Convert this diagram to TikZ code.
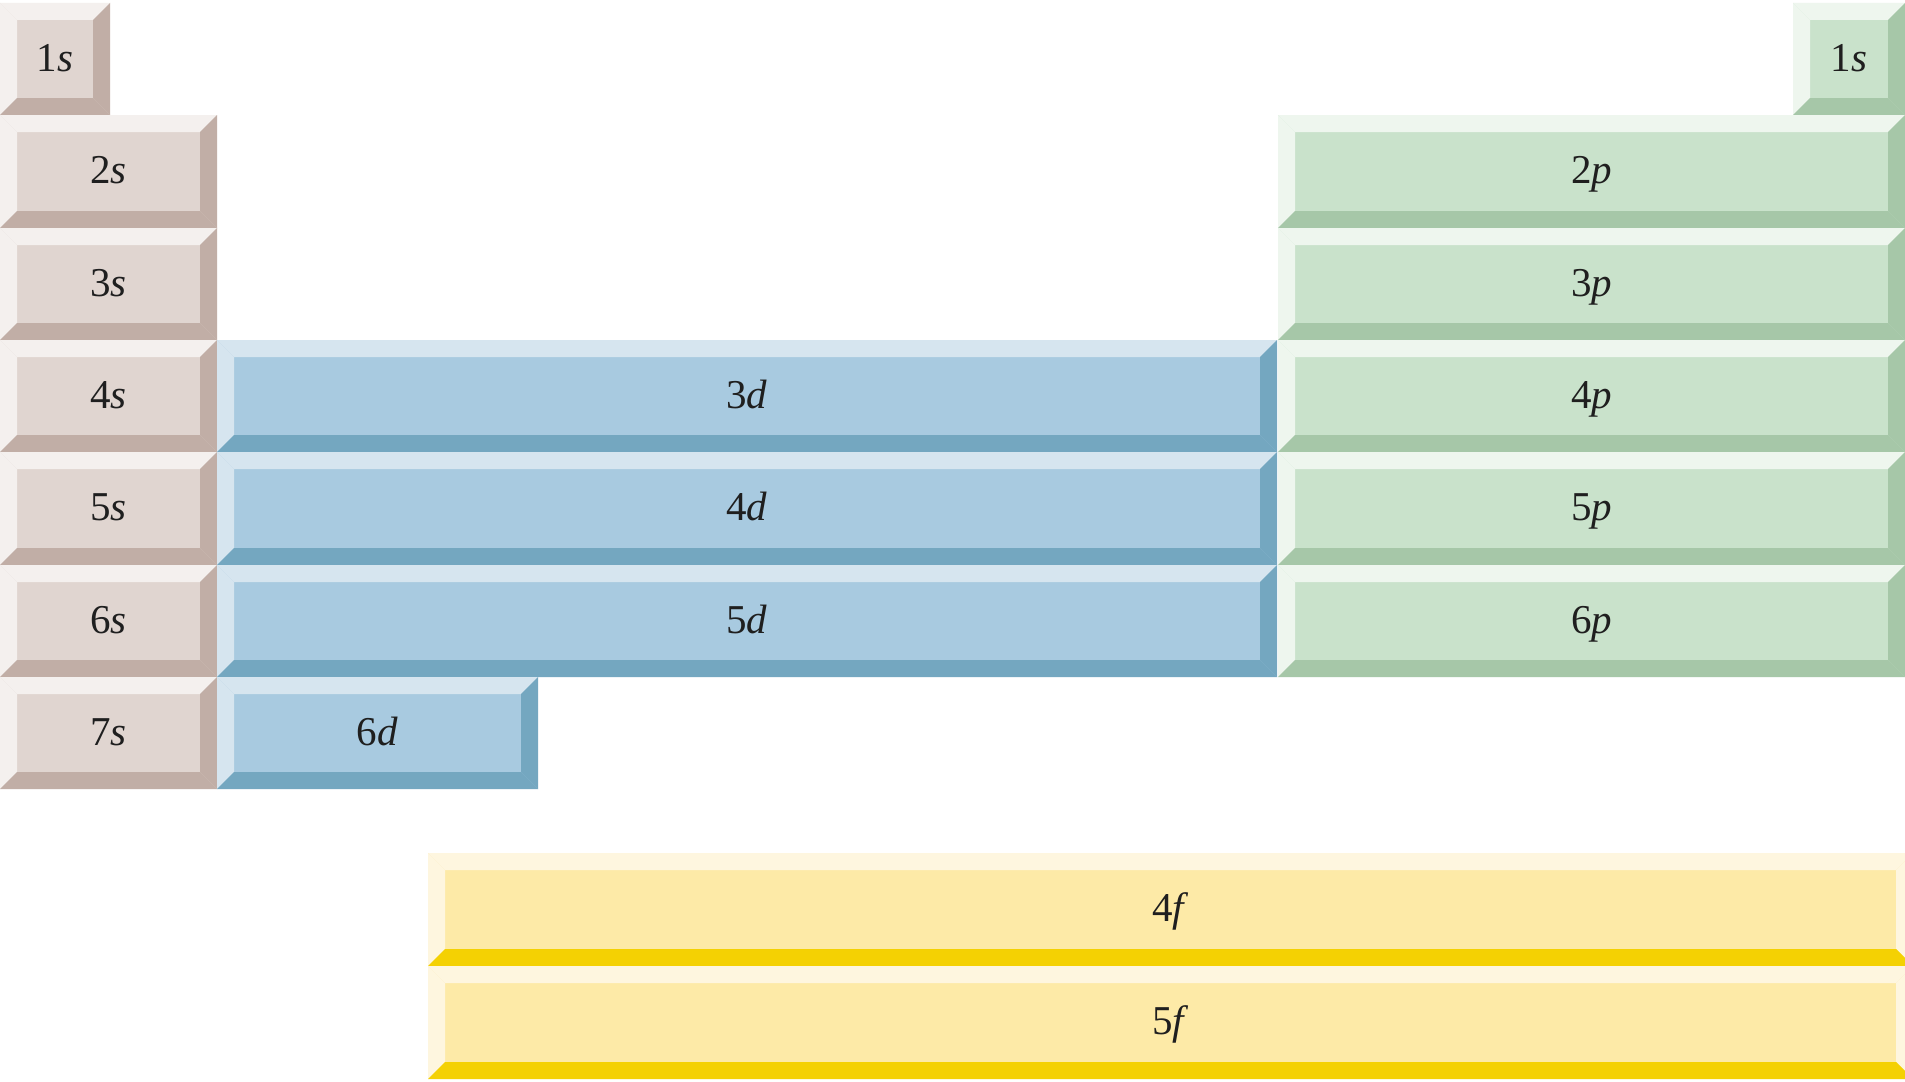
\documentclass[tikz,border=0pt]{standalone}
\usepackage{fontspec}
\setmainfont{Liberation Serif}
\definecolor{sface}{HTML}{E0D5D0}
\definecolor{slight}{HTML}{F4F0EE}
\definecolor{sright}{HTML}{C1AEA6}
\definecolor{sbottom}{HTML}{C1AEA6}
\definecolor{pface}{HTML}{C9E2CB}
\definecolor{plight}{HTML}{EEF6EE}
\definecolor{pright}{HTML}{A6C7A8}
\definecolor{pbottom}{HTML}{A6C7A8}
\definecolor{dface}{HTML}{A8CAE0}
\definecolor{dlight}{HTML}{D6E5EF}
\definecolor{dright}{HTML}{74A7C0}
\definecolor{dbottom}{HTML}{74A7C0}
\definecolor{fface}{HTML}{FDEAA7}
\definecolor{flight}{HTML}{FEF6DF}
\definecolor{fright}{HTML}{FEF6DF}
\definecolor{fbottom}{HTML}{F4D103}
\tikzset{lbl/.style={anchor=base,inner sep=0pt,font=\fontsize{41}{48}\selectfont,text=black!88}}
% #1 name, #2 x0, #3 y0, #4 x1, #5 y1, #6 colour set, #7 number, #8 letter
\newcommand{\bevelbox}[8]{%
  \fill[#6face] (#2,#3) rectangle (#4,#5);
  \fill[#6light] (#2,#3) -- (#4,#3) -- ({#4-17},{#3+17}) -- ({#2+17},{#3+17}) -- cycle;
  \fill[#6light] (#2,#3) -- ({#2+17},{#3+17}) -- ({#2+17},{#5-17}) -- (#2,#5) -- cycle;
  \fill[#6right] (#4,#3) -- (#4,#5) -- ({#4-17},{#5-17}) -- ({#4-17},{#3+17}) -- cycle;
  \fill[#6bottom] (#2,#5) -- (#4,#5) -- ({#4-17},{#5-17}) -- ({#2+17},{#5-17}) -- cycle;
  \node[lbl] (#1) at ({(#2+#4)/2},{(#3+#5)/2+12}) {#7\textit{#8}};
}
\begin{document}
\begin{tikzpicture}[x=1pt,y=-1pt]
\clip (0,0) rectangle (1905,1081);
\fill[white] (0,0) rectangle (1905,1081);
% s block
\bevelbox{s1}{0}{3}{110}{115}{s}{1}{s}
\bevelbox{s2}{0}{115}{217}{228}{s}{2}{s}
\bevelbox{s3}{0}{228}{217}{340}{s}{3}{s}
\bevelbox{s4}{0}{340}{217}{452}{s}{4}{s}
\bevelbox{s5}{0}{452}{217}{565}{s}{5}{s}
\bevelbox{s6}{0}{565}{217}{677}{s}{6}{s}
\bevelbox{s7}{0}{677}{217}{789}{s}{7}{s}
% d block
\bevelbox{d3}{217}{340}{1277}{452}{d}{3}{d}
\bevelbox{d4}{217}{452}{1277}{565}{d}{4}{d}
\bevelbox{d5}{217}{565}{1277}{677}{d}{5}{d}
\bevelbox{d6}{217}{677}{538}{789}{d}{6}{d}
% p block
\bevelbox{h1}{1793}{3}{1905}{115}{p}{1}{s}
\bevelbox{p2}{1278}{115}{1905}{228}{p}{2}{p}
\bevelbox{p3}{1278}{228}{1905}{340}{p}{3}{p}
\bevelbox{p4}{1278}{340}{1905}{452}{p}{4}{p}
\bevelbox{p5}{1278}{452}{1905}{565}{p}{5}{p}
\bevelbox{p6}{1278}{565}{1905}{677}{p}{6}{p}
% f block
\bevelbox{f4}{428}{853}{1913}{966}{f}{4}{f}
\bevelbox{f5}{428}{966}{1913}{1079}{f}{5}{f}
\end{tikzpicture}
\end{document}
